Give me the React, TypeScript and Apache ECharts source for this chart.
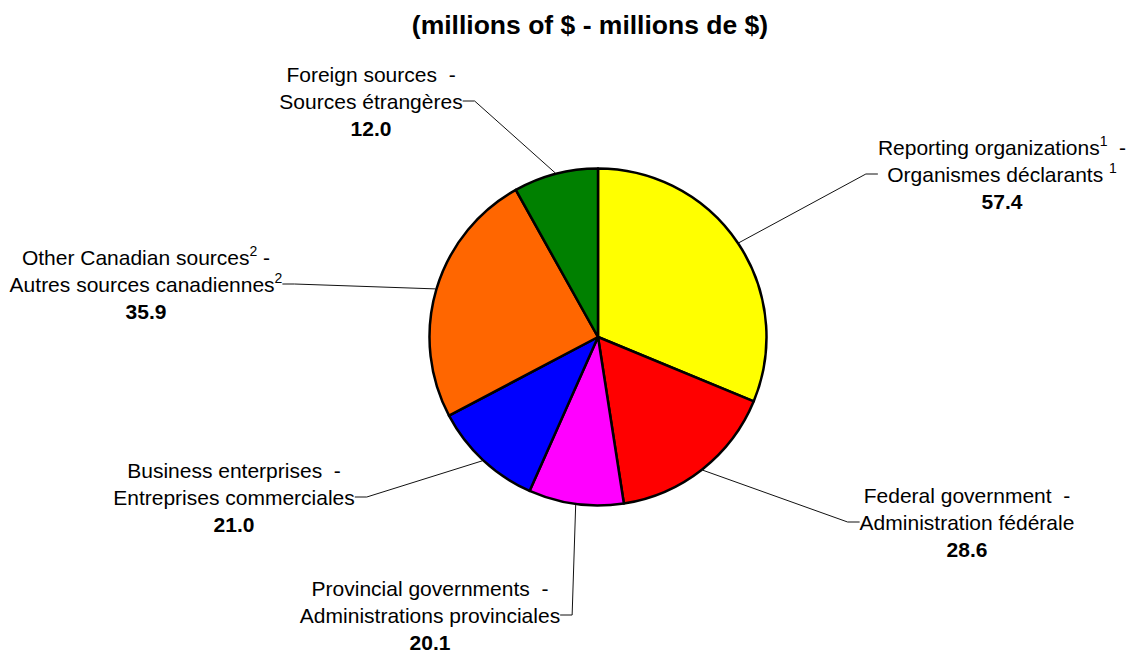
import React, { useEffect, useRef } from 'react';
import * as echarts from 'echarts';

const titleText = '(millions of $ - millions de $)';
const englishNames = [
  'Reporting organizations',
  'Federal government',
  'Provincial governments',
  'Business enterprises',
  'Other Canadian sources',
  'Foreign sources',
];
const frenchNames = [
  'Organismes déclarants ',
  'Administration fédérale',
  'Administrations provinciales',
  'Entreprises commerciales',
  'Autres sources canadiennes',
  'Sources étrangères',
];
const notes = ['1', '', '', '', '2', ''];
// values printed in the labels
const labelValues = [57.4, 28.6, 20.1, 21.0, 35.9, 12.0];
// slice sizes as drawn in the reference picture (percent of the circle)
const sliceShares = [31.2, 16.3, 9.1, 10.6, 24.6, 8.1];
const colors = ['#FFFF00', '#FF0000', '#FF00FF', '#0000FF', '#FF6600', '#008000'];
// label block centres (middle line) in px
const labelCenters = [
  [1002, 174],
  [967, 522],
  [430, 615],
  [234, 497],
  [146, 284],
  [371, 101],
];

const FONT = '"Liberation Sans", Arial, Helvetica, sans-serif';
const CENTER = [598, 337];
const RADIUS = 168.5;

function labelText(i: number): string {
  const sup = notes[i] ? `{sup|${notes[i]}}` : '';
  const dash = notes[i] === '2' ? ' -' : '  -';
  return `${englishNames[i]}${sup}${dash}\n${frenchNames[i]}${sup}\n{b|${labelValues[i].toFixed(1)}}`;
}

export default function App() {
  const ref = useRef<HTMLDivElement>(null);
  useEffect(() => {
    const chart = echarts.init(ref.current!, null, { renderer: 'svg' });
    const total = sliceShares.reduce((a, b) => a + b, 0);
    const bounds: number[][] = [];
    let cum = 0;
    sliceShares.forEach((v) => {
      bounds.push([(cum / total) * 360, ((cum + v) / total) * 360]);
      cum += v;
    });
    const rad = (d: number) => (d * Math.PI) / 180;

    const option: any = {
      animation: false,
      backgroundColor: '#ffffff',
      graphic: [
        {
          type: 'text',
          x: 590,
          y: 25,
          style: {
            text: titleText,
            fontFamily: FONT,
            fontSize: 26.5,
            fontWeight: 'bold',
            fill: '#000',
            align: 'center',
            verticalAlign: 'middle',
          },
        },
      ],
      series: [
        {
          type: 'pie',
          center: CENTER,
          radius: RADIUS,
          startAngle: 90,
          clockwise: true,
          avoidLabelOverlap: false,
          itemStyle: { borderColor: '#000', borderWidth: 2.5 },
          emphasis: { disabled: true },
          label: {
            show: true,
            position: 'outside',
            formatter: (p: any) => labelText(p.dataIndex),
            fontFamily: FONT,
            fontSize: 21,
            lineHeight: 27,
            color: '#000',
            rich: {
              sup: { fontFamily: FONT, fontSize: 14, lineHeight: 22, verticalAlign: 'top', color: '#000' },
              b: { fontFamily: FONT, fontSize: 21, lineHeight: 27, fontWeight: 'bold', color: '#000' },
            },
          },
          labelLine: {
            show: true,
            length: 10,
            length2: 12,
            lineStyle: { color: '#111', width: 1 },
          },
          labelLayout: (params: any) => {
            const i = params.dataIndex;
            const [lx, ly] = labelCenters[i];
            const w = params.labelRect.width;
            const [s, e] = bounds[i];
            const mid = (s + e) / 2;
            const r = RADIUS + 1;
            const ax = CENTER[0] + r * Math.sin(rad(mid));
            const ay = CENTER[1] - r * Math.cos(rad(mid));
            const onRight = lx > ax;
            const edgeX = onRight ? lx - w / 2 : lx + w / 2;
            const stubX = onRight ? edgeX - 12 : edgeX + 12;
            return {
              x: lx,
              y: ly,
              align: 'center',
              verticalAlign: 'middle',
              labelLinePoints: [
                [ax, ay],
                [stubX, ly],
                [edgeX, ly],
              ],
            };
          },
          data: sliceShares.map((v, i) => ({
            value: v,
            name: englishNames[i],
            itemStyle: { color: colors[i] },
          })),
        },
      ],
    };
    chart.setOption(option);
    return () => chart.dispose();
  }, []);
  return (
    <div
      ref={ref}
      style={{ position: 'absolute', left: 0, top: 0, width: 1131, height: 652, background: '#fff' }}
    />
  );
}
